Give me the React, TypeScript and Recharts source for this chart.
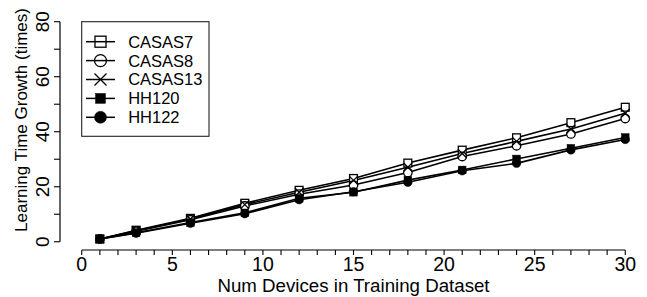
import React from 'react';
import { LineChart, Line, XAxis, YAxis, ReferenceLine, Legend } from 'recharts';

const devices = [1, 3, 6, 9, 12, 15, 18, 21, 24, 27, 30];
const casas7 = [1, 4.2, 8.5, 14, 18.7, 23, 28.6, 33.3, 37.8, 43.3, 48.9];
const casas8 = [1, 3.8, 8, 13, 17.3, 20.6, 25.2, 31, 34.9, 39.2, 44.8];
const casas13 = [1, 4, 8.3, 13.5, 18, 22.3, 27.1, 32.1, 36.5, 41, 46.7];
const hh120 = [1, 3.3, 7, 10.5, 15.8, 18, 22.4, 26.1, 30.1, 34, 37.9];
const hh122 = [1, 3.1, 6.7, 10.2, 15.3, 18.2, 21.6, 25.8, 28.5, 33.4, 37.2];

const seriesNames = ['CASAS7', 'CASAS8', 'CASAS13', 'HH120', 'HH122'];
const seriesValues = [casas7, casas8, casas13, hh120, hh122];
const seriesShapes = ['square', 'circle', 'cross', 'fsquare', 'fcircle'];

const xTicks = Array.from({ length: 31 }, (_, i) => i);
const xLabelTicks = [0, 5, 10, 15, 20, 25, 30];
const yTicks = [0, 10, 20, 30, 40, 50, 60, 70, 80];
const yLabelTicks = [0, 20, 40, 60, 80];

const xTitle = 'Num Devices in Training Dataset';
const yTitle = 'Learning Time Growth (times)';

const data = devices.map((d, i) => {
  const row: any = { x: d };
  seriesNames.forEach((n, k) => {
    row[n] = seriesValues[k][i];
  });
  return row;
});

const FONT = '"Liberation Sans", Arial, Helvetica, sans-serif';

function Marker({ shape, cx, cy, size, hollowFill = '#fff' }: { shape: string; cx: number; cy: number; size: number; hollowFill?: string }) {
  const h = size / 2;
  const sw = 1.3;
  if (shape === 'square') {
    return <rect x={cx - h * 0.92} y={cy - h * 0.92} width={size * 0.92} height={size * 0.92} fill={hollowFill} stroke="#000" strokeWidth={sw} />;
  }
  if (shape === 'circle') {
    return <circle cx={cx} cy={cy} r={h} fill={hollowFill} stroke="#000" strokeWidth={sw} />;
  }
  if (shape === 'cross') {
    return (
      <g stroke="#000" strokeWidth={sw}>
        <line x1={cx - h} y1={cy - h} x2={cx + h} y2={cy + h} />
        <line x1={cx - h} y1={cy + h} x2={cx + h} y2={cy - h} />
      </g>
    );
  }
  if (shape === 'fsquare') {
    return <rect x={cx - h * 0.9} y={cy - h * 0.9} width={size * 0.9} height={size * 0.9} fill="#000" stroke="#000" strokeWidth={0.5} />;
  }
  return <circle cx={cx} cy={cy} r={h} fill="#000" stroke="#000" strokeWidth={0.5} />;
}

function XTick(props: any) {
  const { x, y, payload } = props;
  const v = payload.value;
  if (!xLabelTicks.includes(v)) return <g />;
  return (
    <text x={x} y={y} dy={15.5} textAnchor="middle" fontSize={19.5} fontFamily={FONT} fill="#000">
      {v}
    </text>
  );
}

function YTick(props: any) {
  const { x, y, payload } = props;
  const v = payload.value;
  if (!yLabelTicks.includes(v)) return <g />;
  const bx = x - 4.7;
  return (
    <text x={bx} y={y} transform={`rotate(-90, ${bx}, ${y})`} textAnchor="middle" fontSize={19} fontFamily={FONT} fill="#000">
      {v}
    </text>
  );
}

function XTitle() {
  return (
    <text x={353.5} y={291.6} textAnchor="middle" fontSize={18.7} fontFamily={FONT} fill="#000">
      {xTitle}
    </text>
  );
}

function YTitle() {
  return (
    <text x={26.7} y={120} transform="rotate(-90, 26.7, 120)" textAnchor="middle" fontSize={17} fontFamily={FONT} fill="#000">
      {yTitle}
    </text>
  );
}

function LegendBox() {
  return (
    <svg width={130} height={118} style={{ display: 'block' }}>
      <rect x={0.7} y={0.7} width={127.3} height={114.6} fill="#fff" stroke="#222" strokeWidth={1.1} />
      {seriesNames.map((n, i) => {
        const cy = 20.7 + i * 18.9;
        const shape = seriesShapes[i];
        const size = shape === 'fsquare' ? 11 : 12;
        return (
          <g key={n}>
            <line x1={5} y1={cy} x2={34} y2={cy} stroke="#000" strokeWidth={1.5} />
            <Marker shape={shape} cx={19.5} cy={cy} size={size} hollowFill="none" />
            <text x={47.2} y={cy + 5.9} fontSize={16.5} fontFamily={FONT} fill="#000">
              {n}
            </text>
          </g>
        );
      })}
    </svg>
  );
}

export default function App() {
  return (
    <div style={{ width: 647, height: 297, background: '#fff' }}>
      <style>{'body{margin:0;background:#fff;}'}</style>
      <LineChart
        width={647}
        height={297}
        data={data}
        margin={{ top: 21.7, right: 0, bottom: 0, left: 0 }}
      >
        <XAxis
          dataKey="x"
          type="number"
          domain={[-1.2, 31.2]}
          allowDataOverflow
          ticks={xTicks}
          interval={0}
          height={47}
          tickSize={5}
          tickMargin={0}
          axisLine={false}
          tickLine={{ stroke: '#000', strokeWidth: 1.1 }}
          tick={<XTick />}
          label={<XTitle />}
        />
        <YAxis
          type="number"
          domain={[-3, 80]}
          allowDataOverflow
          ticks={yTicks}
          interval={0}
          width={60}
          tickSize={6}
          tickMargin={0}
          axisLine={false}
          tickLine={{ stroke: '#000', strokeWidth: 1.1 }}
          tick={<YTick />}
          label={<YTitle />}
        />
        <ReferenceLine
          segment={[{ x: 0, y: -3 }, { x: 30, y: -3 }]}
          stroke="#000"
          strokeWidth={1.2}
          ifOverflow="visible"
        />
        <ReferenceLine
          segment={[{ x: -1.2, y: 0 }, { x: -1.2, y: 80 }]}
          stroke="#000"
          strokeWidth={1.2}
          ifOverflow="visible"
        />
        {seriesNames.map((n, k) => (
          <Line
            key={n}
            dataKey={n}
            type="linear"
            stroke="#000"
            strokeWidth={1.6}
            isAnimationActive={false}
            activeDot={false}
            dot={(p: any) => (
              <Marker key={`${n}-${p.index}`} shape={seriesShapes[k]} cx={p.cx} cy={p.cy} size={8.5} />
            )}
          />
        ))}
        <Legend
          layout="vertical"
          align="center"
          verticalAlign="middle"
          content={() => <LegendBox />}
          wrapperStyle={{ left: 81, top: 21, width: 130, height: 118, margin: 0 }}
        />
      </LineChart>
    </div>
  );
}
